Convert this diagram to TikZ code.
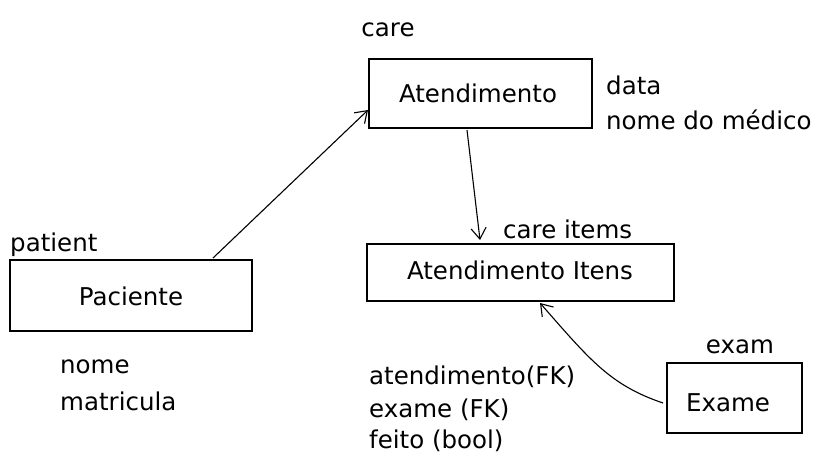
\documentclass[tikz,border=0pt]{standalone}
\usepackage{fontspec}
\setmainfont{DejaVu Sans}
\usetikzlibrary{arrows.meta}
\begin{document}
\begin{tikzpicture}[x=1pt,y=-1pt,
  entity/.style={draw,line width=1.2pt,inner sep=0pt},
  lbl/.style={inner sep=0pt,font=\fontsize{24.5}{28}\selectfont},
  lbll/.style={lbl,anchor=west},
  conn/.style={line width=1.1pt,-{Straight Barb[length=11pt,width=15pt,line width=1.1pt]}}]
\useasboundingbox (0,0) rectangle (824,472);
% boxes
\node[entity,minimum width=223pt,minimum height=69pt] (aten) at (480.5,93.5) {};
\node[entity,minimum width=242pt,minimum height=71pt] (pac) at (131,295.5) {};
\node[entity,minimum width=307pt,minimum height=57pt] (itens) at (520.5,272.5) {};
\node[entity,minimum width=135pt,minimum height=70pt] (exame) at (734.5,398) {};
% box texts
\node[lbl] (tAten) at (478,93) {Atendimento};
\node[lbl] (tPac) at (131,296) {Paciente};
\node[lbl] (tItens) at (520,270) {Atendimento Itens};
\node[lbl] (tExame) at (728,403) {Exame};
% captions
\node[lbl] (care) at (388,30) {care};
\node[lbll] (patient) at (10,245) {patient};
\node[lbll] (careitems) at (503,229) {care items};
\node[lbl] (exam) at (740,347) {exam};
\node[lbll] (data) at (606,85) {data};
\node[lbll] (medico) at (606,120) {nome do médico};
\node[lbll] (nome) at (60,367) {nome};
\node[lbll] (matr) at (60,401) {matricula};
\node[lbll] (fk1) at (369,377) {atendimento(FK)};
\node[lbll] (fk2) at (369,410) {exame (FK)};
\node[lbll] (fk3) at (369,441) {feito (bool)};
% connectors
\coordinate (p1) at (213,258);
\coordinate (a1) at (368,110);
\coordinate (a2) at (467,130);
\coordinate (i1) at (480,240);
\coordinate (e1) at (663,403);
\coordinate (i2) at (540,303);
\draw[conn] (p1) -- (a1);
\draw[conn] (a2) -- (i1);
\draw[conn] (e1) .. controls (610,385) and (590,360) .. (i2);
\end{tikzpicture}
\end{document}
